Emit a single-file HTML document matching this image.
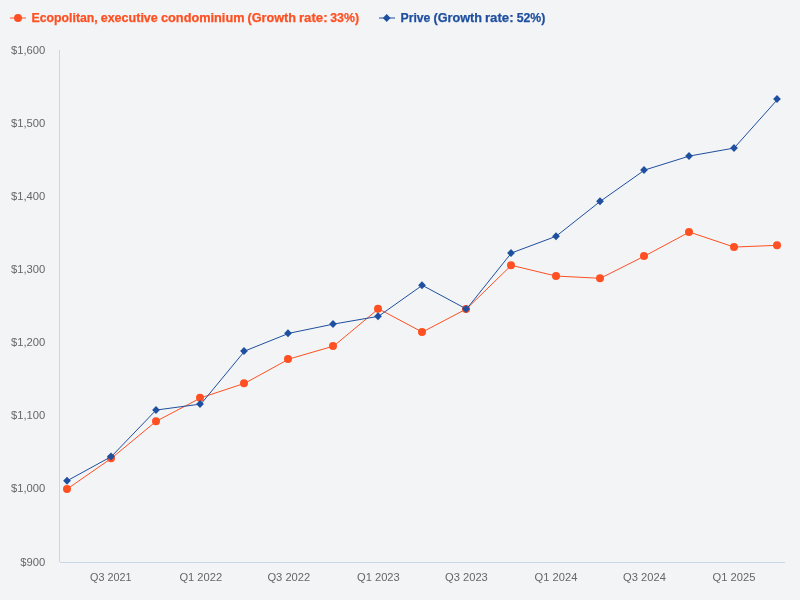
<!DOCTYPE html>
<html lang="en"><head><meta charset="utf-8"><title>Chart</title>
<style>
html,body{margin:0;padding:0;background:#f3f4f6;}
body{width:800px;height:600px;overflow:hidden;}
svg{display:block;font-family:"Liberation Sans",sans-serif;}
.ax text{font-size:11px;fill:#666;}
.lg{font-size:12.6px;font-weight:bold;stroke-width:0.25px;}
</style></head><body>
<svg width="800" height="600" viewBox="0 0 800 600">
<rect width="800" height="600" fill="#f3f4f6"/>
<path d="M59.5 50 V562" stroke="#ccd6eb" stroke-width="1" fill="none"/>
<path d="M60 562.5 H785" stroke="#ccd6eb" stroke-width="1" fill="none"/>
<path d="M67.11 489.05 L111.38 458.3 L156.14 421.3 L200.9 397.8 L244.68 383.3 L288.95 359.05 L333.71 346.05 L378.47 308.8 L422.26 332.1 L466.53 308.9 L511.29 265.3 L556.05 276.05 L600.32 278.3 L644.59 256.05 L689.35 232.05 L734.11 247.05 L777.89 245.3" stroke="#fe5022" stroke-width="1" fill="none" stroke-linejoin="round" stroke-linecap="round"/>
<g fill="#fe5022"><circle cx="67" cy="489.05" r="4"/><circle cx="111" cy="458.3" r="4"/><circle cx="156" cy="421.3" r="4"/><circle cx="200" cy="397.8" r="4"/><circle cx="244" cy="383.3" r="4"/><circle cx="288" cy="359.05" r="4"/><circle cx="333" cy="346.05" r="4"/><circle cx="378" cy="308.8" r="4"/><circle cx="422" cy="332.1" r="4"/><circle cx="466" cy="308.9" r="4"/><circle cx="511" cy="265.3" r="4"/><circle cx="556" cy="276.05" r="4"/><circle cx="600" cy="278.3" r="4"/><circle cx="644" cy="256.05" r="4"/><circle cx="689" cy="232.05" r="4"/><circle cx="734" cy="247.05" r="4"/><circle cx="777" cy="245.3" r="4"/></g>
<path d="M67.11 480.8 L111.38 456.55 L156.14 410.05 L200.9 404.05 L244.68 351.05 L288.95 333.3 L333.71 324.05 L378.47 316.3 L422.26 285.3 L466.53 309.05 L511.29 253.05 L556.05 236.3 L600.32 201.3 L644.59 170.05 L689.35 156.05 L734.11 148.05 L777.89 99.05" stroke="#1f4f9f" stroke-width="1" fill="none" stroke-linejoin="round" stroke-linecap="round"/>
<g fill="#1f4f9f"><path d="M67 476.8 L70.85 480.8 L67 484.8 L63.15 480.8 Z"/><path d="M111 452.55 L114.85 456.55 L111 460.55 L107.15 456.55 Z"/><path d="M156 406.05 L159.85 410.05 L156 414.05 L152.15 410.05 Z"/><path d="M200 400.05 L203.85 404.05 L200 408.05 L196.15 404.05 Z"/><path d="M244 347.05 L247.85 351.05 L244 355.05 L240.15 351.05 Z"/><path d="M288 329.3 L291.85 333.3 L288 337.3 L284.15 333.3 Z"/><path d="M333 320.05 L336.85 324.05 L333 328.05 L329.15 324.05 Z"/><path d="M378 312.3 L381.85 316.3 L378 320.3 L374.15 316.3 Z"/><path d="M422 281.3 L425.85 285.3 L422 289.3 L418.15 285.3 Z"/><path d="M466 305.05 L469.85 309.05 L466 313.05 L462.15 309.05 Z"/><path d="M511 249.05 L514.85 253.05 L511 257.05 L507.15 253.05 Z"/><path d="M556 232.3 L559.85 236.3 L556 240.3 L552.15 236.3 Z"/><path d="M600 197.3 L603.85 201.3 L600 205.3 L596.15 201.3 Z"/><path d="M644 166.05 L647.85 170.05 L644 174.05 L640.15 170.05 Z"/><path d="M689 152.05 L692.85 156.05 L689 160.05 L685.15 156.05 Z"/><path d="M734 144.05 L737.85 148.05 L734 152.05 L730.15 148.05 Z"/><path d="M777 95.05 L780.85 99.05 L777 103.05 L773.15 99.05 Z"/></g>
<g class="ax"><text x="45.3" y="566" text-anchor="end" textLength="24.97" lengthAdjust="spacingAndGlyphs">$900</text><text x="45.3" y="492" text-anchor="end" textLength="34.34" lengthAdjust="spacingAndGlyphs">$1,000</text><text x="45.3" y="419" text-anchor="end" textLength="34.34" lengthAdjust="spacingAndGlyphs">$1,100</text><text x="45.3" y="346" text-anchor="end" textLength="34.34" lengthAdjust="spacingAndGlyphs">$1,200</text><text x="45.3" y="273" text-anchor="end" textLength="34.34" lengthAdjust="spacingAndGlyphs">$1,300</text><text x="45.3" y="200" text-anchor="end" textLength="34.34" lengthAdjust="spacingAndGlyphs">$1,400</text><text x="45.3" y="127" text-anchor="end" textLength="34.34" lengthAdjust="spacingAndGlyphs">$1,500</text><text x="45.3" y="54" text-anchor="end" textLength="34.34" lengthAdjust="spacingAndGlyphs">$1,600</text></g>
<g class="ax"><text x="110.78" y="581" text-anchor="middle" textLength="41.5" lengthAdjust="spacingAndGlyphs">Q3 2021</text><text x="200.8" y="581" text-anchor="middle" textLength="42.8" lengthAdjust="spacingAndGlyphs">Q1 2022</text><text x="288.85" y="581" text-anchor="middle" textLength="42.8" lengthAdjust="spacingAndGlyphs">Q3 2022</text><text x="378.37" y="581" text-anchor="middle" textLength="42.8" lengthAdjust="spacingAndGlyphs">Q1 2023</text><text x="466.43" y="581" text-anchor="middle" textLength="42.8" lengthAdjust="spacingAndGlyphs">Q3 2023</text><text x="555.95" y="581" text-anchor="middle" textLength="42.8" lengthAdjust="spacingAndGlyphs">Q1 2024</text><text x="644.49" y="581" text-anchor="middle" textLength="42.8" lengthAdjust="spacingAndGlyphs">Q3 2024</text><text x="734.01" y="581" text-anchor="middle" textLength="42.8" lengthAdjust="spacingAndGlyphs">Q1 2025</text></g>
<path d="M10 18 H26" stroke="#fe5022" stroke-width="1"/><circle cx="18" cy="18" r="4" fill="#fe5022"/>
<text class="lg" y="22" fill="#fe5022" stroke="#fe5022"><tspan x="31.5" textLength="66.26" lengthAdjust="spacingAndGlyphs">Ecopolitan,</tspan> <tspan x="100.7" textLength="57.12" lengthAdjust="spacingAndGlyphs">executive</tspan> <tspan x="160.99" textLength="83.53" lengthAdjust="spacingAndGlyphs">condominium</tspan> <tspan x="247.47" textLength="48.62" lengthAdjust="spacingAndGlyphs">(Growth</tspan> <tspan x="298.98" textLength="28.59" lengthAdjust="spacingAndGlyphs">rate:</tspan> <tspan x="330.23" textLength="28.81" lengthAdjust="spacingAndGlyphs">33%)</tspan></text>
<path d="M379 18 H395" stroke="#1f4f9f" stroke-width="1"/><g fill="#1f4f9f"><path d="M386.7 14 L390.55 18 L386.7 22 L382.85 18 Z"/></g>
<text class="lg" y="22" fill="#1f4f9f" stroke="#1f4f9f"><tspan x="400.5" textLength="29.92" lengthAdjust="spacingAndGlyphs">Prive</tspan> <tspan x="433.47" textLength="48.62" lengthAdjust="spacingAndGlyphs">(Growth</tspan> <tspan x="484.98" textLength="28.65" lengthAdjust="spacingAndGlyphs">rate:</tspan> <tspan x="516.63" textLength="28.76" lengthAdjust="spacingAndGlyphs">52%)</tspan></text>
</svg>
</body></html>
